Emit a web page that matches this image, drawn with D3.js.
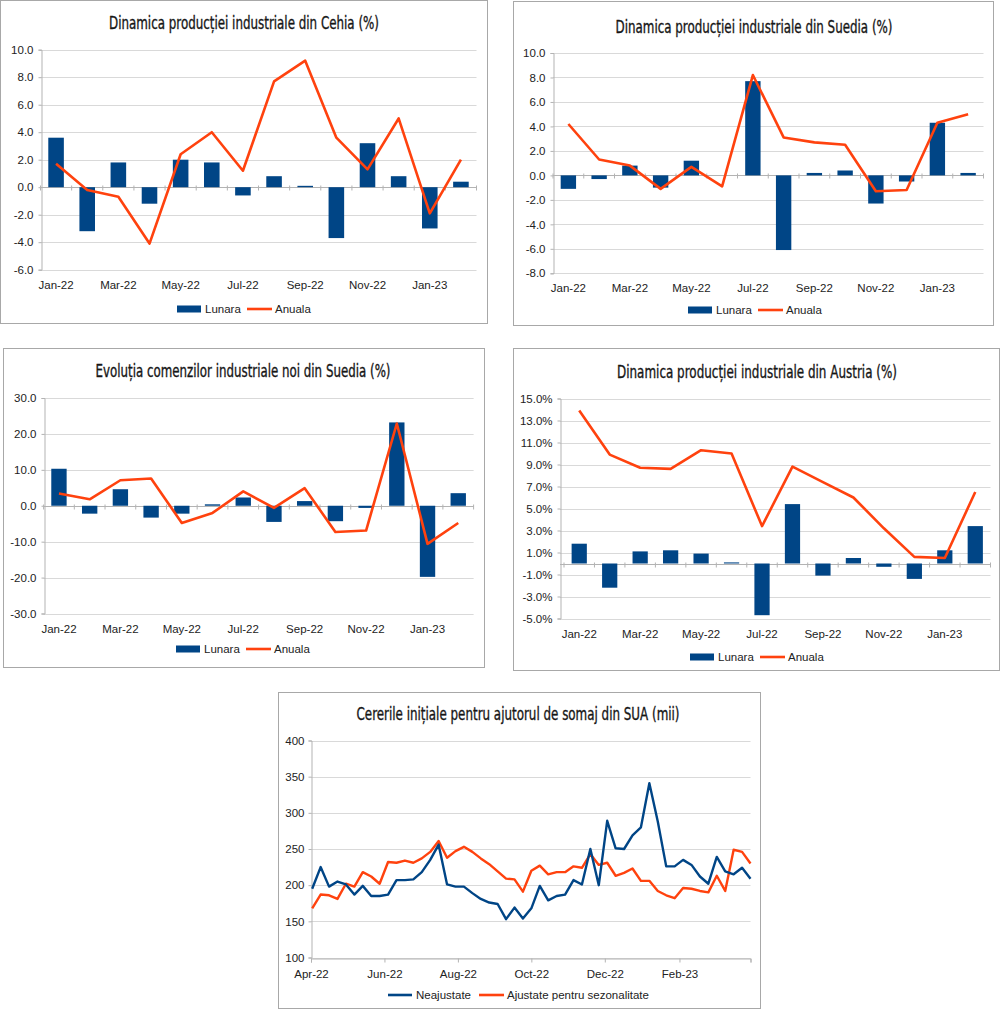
<!DOCTYPE html>
<html>
<head>
<meta charset="utf-8">
<script src="https://cdn.jsdelivr.net/npm/d3@7"></script>
<style>
body { margin: 0; background: #fff; }
svg text { font-family: "Liberation Sans", Arial, sans-serif; }
</style>
</head>
<body>
<svg id="fig" width="1000" height="1010"></svg>
<script>
// luni (axa categoriilor pentru graficele cu bare)
var months = ["Jan-22","Feb-22","Mar-22","Apr-22","May-22","Jun-22","Jul-22","Aug-22","Sep-22","Oct-22","Nov-22","Dec-22","Jan-23","Feb-23"];
var monthTicks = ["Jan-22","Mar-22","May-22","Jul-22","Sep-22","Nov-22","Jan-23"];

var cehiaLunara  = [3.6,-3.2,1.8,-1.2,2.0,1.8,-0.6,0.8,0.1,-3.7,3.2,0.8,-3.0,0.4];
var cehiaAnuala  = [1.7,-0.2,-0.7,-4.1,2.4,4.0,1.2,7.7,9.2,3.6,1.3,5.0,-1.9,2.0];

var suediaLunara = [-1.1,-0.3,0.8,-1.0,1.2,0.0,7.7,-6.1,0.2,0.4,-2.3,-0.5,4.3,0.2];
var suediaAnuala = [4.2,1.3,0.8,-1.1,0.7,-0.9,8.2,3.1,2.7,2.5,-1.3,-1.2,4.3,5.0];

var comenziLunara = [10.3,-2.2,4.6,-3.3,-2.2,0.4,2.3,-4.5,1.3,-4.3,-0.6,23.2,-19.8,3.5];
var comenziAnuala = [3.4,1.8,7.1,7.6,-4.8,-2.0,4.0,-0.6,4.9,-7.3,-6.9,22.9,-10.6,-4.8];

var austriaLunara = [1.8,-2.2,1.1,1.2,0.9,0.1,-4.7,5.4,-1.1,0.5,-0.3,-1.4,1.2,3.4];
var austriaAnuala = [13.9,9.9,8.7,8.6,10.3,10.0,3.4,8.8,7.4,6.0,3.2,0.6,0.5,6.5];

// cereri initiale somaj SUA, saptamanal (mii)
var weeks = ["2022-04-02","2022-04-09","2022-04-16","2022-04-23","2022-04-30",
  "2022-05-07","2022-05-14","2022-05-21","2022-05-28",
  "2022-06-04","2022-06-11","2022-06-18","2022-06-25",
  "2022-07-02","2022-07-09","2022-07-16","2022-07-23","2022-07-30",
  "2022-08-06","2022-08-13","2022-08-20","2022-08-27",
  "2022-09-03","2022-09-10","2022-09-17","2022-09-24",
  "2022-10-01","2022-10-08","2022-10-15","2022-10-22","2022-10-29",
  "2022-11-05","2022-11-12","2022-11-19","2022-11-26",
  "2022-12-03","2022-12-10","2022-12-17","2022-12-24","2022-12-31",
  "2023-01-07","2023-01-14","2023-01-21","2023-01-28",
  "2023-02-04","2023-02-11","2023-02-18","2023-02-25",
  "2023-03-04","2023-03-11","2023-03-18","2023-03-25","2023-04-01"];
var neajustate = [195,225,198,205,201,187,199,185,185,187,207,207,208,218,235,256,201,198,198,189,181,176,174,153,169,154,
  168,199,179,185,187,207,201,250,200,289,251,250,269,280,341,288,226,226,235,228,212,202,239,219,215,224,209];
var ajustate = [168,187,186,181,202,198,218,212,202,232,231,234,231,237,246,261,238,247,253,246,237,229,219,209,208,191,
  220,227,215,218,218,226,224,243,228,231,213,217,223,206,206,192,186,182,196,195,192,190,213,192,249,246,230];
var claimTicks = ["2022-04-01","2022-06-01","2022-08-01","2022-10-01","2022-12-01","2023-02-01","2023-04-01"];
var claimTickLabels = ["Apr-22","Jun-22","Aug-22","Oct-22","Dec-22","Feb-23",""];

var BLUE = "#004586", ORANGE = "#ff420e", GRID = "#d9d9d9", AXIS = "#b3b3b3";
var svg = d3.select("#fig");
var parse = d3.timeParse("%Y-%m-%d");

function panelBox(b)
{
    svg.append("rect")
       .attr("x", b[0] + 0.5).attr("y", b[1] + 0.5)
       .attr("width", b[2]).attr("height", b[3])
       .attr("fill", "#fff").attr("stroke", "#a8a8a8");
}

function title(txt, cx, y, w)
{
    svg.append("text")
       .attr("x", cx).attr("y", y)
       .attr("text-anchor", "middle")
       .attr("textLength", w).attr("lengthAdjust", "spacingAndGlyphs")
       .style("font-family", '"Liberation Sans Narrow", "DejaVu Sans Condensed", sans-serif')
       .style("font-size", "18px")
       .attr("fill", "#161616").attr("stroke", "#161616").attr("stroke-width", 0.35)
       .text(txt);
}

function styleAxis(sel)
{
    sel.selectAll("path").attr("stroke", AXIS);
    sel.selectAll("line").attr("stroke", AXIS);
    sel.selectAll("text").attr("fill", "#222").style("font-size", "11.5px")
       .style("font-family", '"Liberation Sans", Arial, sans-serif');
}

function legendText(x, y, txt)
{
    svg.append("text").attr("x", x).attr("y", y).attr("dy", "0.35em")
       .style("font-size", "11.5px").attr("fill", "#222").text(txt);
}

function barPanel(c)
{
    panelBox(c.box);
    title(c.title, c.tx, c.ty, c.tw);

    var g = svg.append("g");
    var ax = c.axisX || c.left;   // unde e desenata axa y
    var x = d3.scaleBand().domain(months).range([c.left, c.right])
              .paddingInner(0.5).paddingOuter(0.25);
    var y = d3.scaleLinear().domain(c.domain).range([c.bottom, c.top]);
    var ticks = d3.range(c.domain[0], c.domain[1] + c.step / 2, c.step);

    g.selectAll(".grid").data(ticks).enter().append("line")
     .attr("x1", ax).attr("x2", c.right)
     .attr("y1", function(d) { return Math.round(y(d)) + 0.5; })
     .attr("y2", function(d) { return Math.round(y(d)) + 0.5; })
     .attr("stroke", GRID);

    var ya = g.append("g").attr("transform", "translate(" + (Math.round(ax) + 0.5) + ",0)")
      .call(d3.axisLeft(y).tickValues(ticks).tickSize(3).tickPadding(5).tickFormat(c.fmt));
    styleAxis(ya);

    // axa x trece prin zero, etichetele jos
    var y0 = Math.round(y(0)) + 0.5;
    g.append("line").attr("x1", ax).attr("x2", c.right)
     .attr("y1", y0).attr("y2", y0).attr("stroke", AXIS);
    g.selectAll(".xt").data(d3.range(months.length + 1)).enter().append("line")
     .attr("x1", function(i) { return c.left + i * x.step(); })
     .attr("x2", function(i) { return c.left + i * x.step(); })
     .attr("y1", y0 - 2).attr("y2", y0 + 3)
     .attr("stroke", AXIS);

    var xa = g.append("g").attr("transform", "translate(0," + c.bottom + ")")
      .call(d3.axisBottom(x).tickValues(monthTicks).tickSize(0));
    xa.select(".domain").remove();
    styleAxis(xa);
    xa.selectAll("text").attr("y", 15).attr("dy", "0.35em");

    g.selectAll(".bar").data(c.lunara).enter().append("rect")
     .attr("x", function(d, i) { return x(months[i]); })
     .attr("y", function(d) { return y(Math.max(0, d)); })
     .attr("width", x.bandwidth())
     .attr("height", function(d) { return Math.abs(y(d) - y(0)); })
     .attr("fill", BLUE);

    var line = d3.line()
      .x(function(d, i) { return x(months[i]) + x.bandwidth() / 2; })
      .y(function(d) { return y(d); });
    g.append("path").datum(c.anuala)
     .attr("d", line).attr("fill", "none")
     .attr("stroke", ORANGE).attr("stroke-width", 2.6)
     .attr("stroke-linejoin", "round");

    // legenda
    var lx = c.lx, ly = c.ly;
    svg.append("rect").attr("x", lx).attr("y", ly - 3.5).attr("width", 24).attr("height", 7).attr("fill", BLUE);
    legendText(lx + 28, ly, "Lunara");
    svg.append("line").attr("x1", lx + 70).attr("x2", lx + 95).attr("y1", ly).attr("y2", ly)
       .attr("stroke", ORANGE).attr("stroke-width", 2.6);
    legendText(lx + 98, ly, "Anuala");
}

var f1 = function(d) { return d.toFixed(1); };

barPanel({box: [0, 0, 487, 323], title: "Dinamica producției industriale din Cehia (%)", tx: 244, ty: 29, tw: 270,
  left: 40.5, right: 476.5, top: 49.7, bottom: 269.7, domain: [-6, 10], step: 2, fmt: f1,
  lunara: cehiaLunara, anuala: cehiaAnuala, lx: 177, ly: 309});

barPanel({box: [513, 1, 480, 324], title: "Dinamica producției industriale din Suedia (%)", tx: 754, ty: 33, tw: 277,
  left: 553, right: 983.5, top: 53, bottom: 273.3, domain: [-8, 10], step: 2, fmt: f1,
  lunara: suediaLunara, anuala: suediaAnuala, lx: 688, ly: 310});

barPanel({box: [3, 348, 481, 319], title: "Evoluția comenzilor industriale noi din Suedia (%)", tx: 243, ty: 377, tw: 295,
  left: 43.6, right: 473.6, top: 398, bottom: 613.5, domain: [-30, 30], step: 10, fmt: f1,
  lunara: comenziLunara, anuala: comenziAnuala, lx: 176, ly: 649});

barPanel({box: [513, 348, 486, 322], title: "Dinamica producției industriale din Austria (%)", tx: 757, ty: 378, tw: 280,
  left: 564, axisX: 560, right: 990.5, top: 398.5, bottom: 618.5, domain: [-5, 15], step: 2,
  fmt: function(d) { return d.toFixed(1) + "%"; },
  lunara: austriaLunara, anuala: austriaAnuala, lx: 690, ly: 657});

// panoul 5 - SUA
(function()
{
    panelBox([278, 692, 482, 316]);
    title("Cererile inițiale pentru ajutorul de somaj din SUA (mii)", 518, 720, 323);

    var left = 311, right = 750.5, top = 740.5, bottom = 957.5;
    var g = svg.append("g");
    var x = d3.scaleTime().domain([parse(claimTicks[0]), parse(claimTicks[claimTicks.length - 1])]).range([left, right]);
    var y = d3.scaleLinear().domain([100, 400]).range([bottom, top]);
    var yt = d3.range(100, 401, 50);

    g.selectAll(".grid").data(yt).enter().append("line")
     .attr("x1", left).attr("x2", right)
     .attr("y1", function(d) { return Math.round(y(d)) + 0.5; })
     .attr("y2", function(d) { return Math.round(y(d)) + 0.5; })
     .attr("stroke", GRID);

    var ya = g.append("g").attr("transform", "translate(" + (left + 0.5) + ",0)")
      .call(d3.axisLeft(y).tickValues(yt).tickSize(3).tickPadding(4).tickFormat(d3.format("d")));
    styleAxis(ya);

    var xa = g.append("g").attr("transform", "translate(0," + (Math.round(bottom) + 0.5) + ")")
      .call(d3.axisBottom(x).tickValues(claimTicks.map(parse)).tickSize(4)
        .tickFormat(function(d, i) { return claimTickLabels[i]; }));
    styleAxis(xa);
    xa.selectAll("text").attr("y", 15).attr("dy", "0.35em");

    var line = d3.line()
      .x(function(d, i) { return x(parse(weeks[i])); })
      .y(function(d) { return y(d); });

    g.append("path").datum(ajustate).attr("d", line).attr("fill", "none")
     .attr("stroke", ORANGE).attr("stroke-width", 2.4).attr("stroke-linejoin", "round");
    g.append("path").datum(neajustate).attr("d", line).attr("fill", "none")
     .attr("stroke", BLUE).attr("stroke-width", 2.4).attr("stroke-linejoin", "round");

    var ly = 995;
    svg.append("line").attr("x1", 388).attr("x2", 412).attr("y1", ly).attr("y2", ly)
       .attr("stroke", BLUE).attr("stroke-width", 2.6);
    legendText(416, ly, "Neajustate");
    svg.append("line").attr("x1", 479).attr("x2", 504).attr("y1", ly).attr("y2", ly)
       .attr("stroke", ORANGE).attr("stroke-width", 2.6);
    legendText(507, ly, "Ajustate pentru sezonalitate");
})();
</script>
</body>
</html>
